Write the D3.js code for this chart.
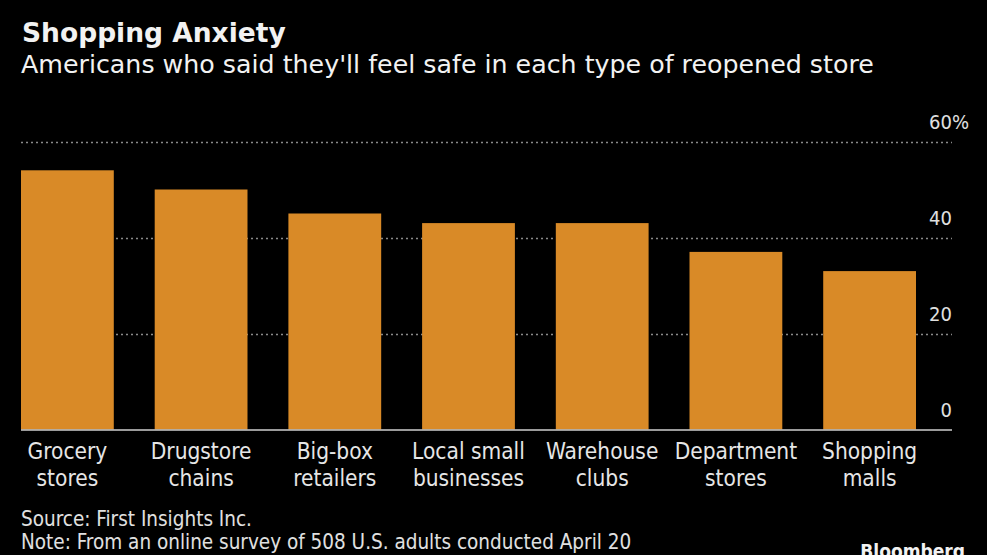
<!DOCTYPE html>
<html><head><meta charset="utf-8">
<script src="https://cdn.jsdelivr.net/npm/d3@7"></script>
<style>
html,body{margin:0;padding:0;background:#000;}
svg{display:block;}
</style></head>
<body>
<script>
const categories = [["Grocery","stores"],["Drugstore","chains"],["Big-box","retailers"],["Local small","businesses"],["Warehouse","clubs"],["Department","stores"],["Shopping","malls"]];
const values = [54, 50, 45, 43, 43, 37, 33];
const yTicks = [0, 20, 40, 60];
const title = "Shopping Anxiety";
const subtitle = "Americans who said they'll feel safe in each type of reopened store";
const notes = ["Source: First Insights Inc.", "Note: From an online survey of 508 U.S. adults conducted April 20"];

const W = 987, H = 555;
const svg = d3.select("body").append("svg").attr("width", W).attr("height", H);
svg.append("rect").attr("width", W).attr("height", H).attr("fill", "#000");

const condensed = "'DejaVu Sans Condensed','Liberation Sans Narrow','DejaVu Sans',sans-serif";

svg.append("text").attr("x", 22).attr("y", 42).text(title)
  .attr("fill", "#f2f2f2").attr("font-family", "'DejaVu Sans',sans-serif")
  .attr("font-weight", "bold").attr("font-size", 26.5);
svg.append("text").attr("x", 21).attr("y", 73).text(subtitle)
  .attr("fill", "#f2f2f2").attr("font-family", "'DejaVu Sans',sans-serif")
  .attr("font-size", 25.3);

const x = d3.scaleBand().domain(d3.range(categories.length)).range([21, 916]).paddingInner(0.306).paddingOuter(0);
const y = d3.scaleLinear().domain([0, 60]).range([429.5, 141.5]);

const gridL = 21, gridR = 952;
// gridlines
svg.append("g").selectAll("line").data(yTicks.filter(t => t > 0)).join("line")
  .attr("x1", gridL).attr("x2", gridR)
  .attr("y1", d => Math.round(y(d)) + 0.5).attr("y2", d => Math.round(y(d)) + 0.5)
  .attr("stroke", "#8a8a8a").attr("stroke-width", 1.3).attr("stroke-dasharray", "2,3");

// bars
svg.append("g").selectAll("rect").data(values).join("rect")
  .attr("x", (d, i) => x(i)).attr("width", x.bandwidth())
  .attr("y", d => y(d)).attr("height", d => y(0) - y(d))
  .attr("fill", "#D98A27");

// baseline
svg.append("line").attr("x1", gridL).attr("x2", gridR)
  .attr("y1", y(0) + 0.5).attr("y2", y(0) + 0.5)
  .attr("stroke", "#cfcfcf").attr("stroke-width", 1.5);

// y tick labels
svg.append("g").selectAll("text").data(yTicks).join("text")
  .attr("x", gridR).attr("y", d => y(d) - 13)
  .attr("text-anchor", "end").attr("fill", "#e0e0e0")
  .attr("font-family", condensed).attr("font-size", 20)
  .text(d => d);
svg.append("text").attr("x", gridR).attr("y", y(60) - 13).text("%")
  .attr("fill", "#e0e0e0").attr("font-family", condensed).attr("font-size", 20);

// category labels
const cl = svg.append("g").selectAll("text").data(categories).join("text")
  .attr("x", (d, i) => x(i) + x.bandwidth() / 2)
  .attr("text-anchor", "middle").attr("fill", "#e6e6e6")
  .attr("font-family", condensed).attr("font-size", 22.5);
cl.append("tspan").attr("x", (d, i) => x(i) + x.bandwidth() / 2).attr("y", 459).text(d => d[0]);
cl.append("tspan").attr("x", (d, i) => x(i) + x.bandwidth() / 2).attr("y", 486).text(d => d[1]);

// notes
svg.append("g").selectAll("text").data(notes).join("text")
  .attr("x", 21).attr("y", (d, i) => 526 + i * 23)
  .attr("fill", "#e0e0e0").attr("font-family", condensed).attr("font-size", 20.5)
  .text(d => d);

svg.append("text").attr("x", 965).attr("y", 558).attr("text-anchor", "end")
  .text("Bloomberg").attr("fill", "#f2f2f2")
  .attr("font-family", "'DejaVu Sans Condensed','Liberation Sans Narrow',sans-serif")
  .attr("font-weight", "bold").attr("font-size", 19);
</script>
</body></html>
